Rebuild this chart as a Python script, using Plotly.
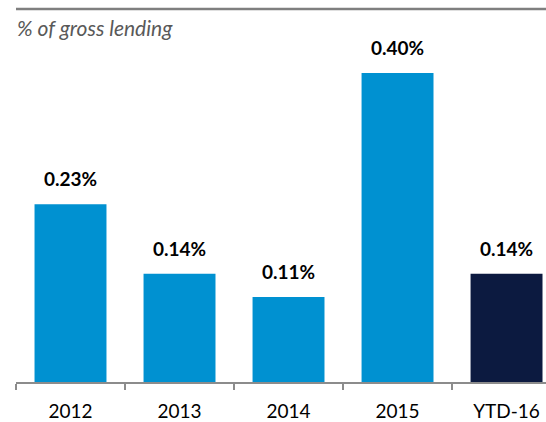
import plotly.graph_objects as go

categories = ["2012", "2013", "2014", "2015", "YTD-16"]
values = [0.23, 0.14, 0.11, 0.40, 0.14]
labels = ["0.23%", "0.14%", "0.11%", "0.40%", "0.14%"]
bar_colors = ["#0091D1", "#0091D1", "#0091D1", "#0091D1", "#0C1A40"]

fig = go.Figure()
fig.add_trace(go.Bar(
    x=categories,
    y=values,
    marker=dict(color=bar_colors, line=dict(width=0)),
    width=0.66,
    hoverinfo="skip",
))

# value labels above bars (x as category index, "2012" would be read as a number)
for i, (v, t) in enumerate(zip(values, labels)):
    fig.add_annotation(x=i, y=v, text=f"<b>{t}</b>", showarrow=False,
                       yanchor="bottom", yshift=12,
                       font=dict(family="Lato", size=19, color="#000000"))

# subtitle and top rule
fig.add_annotation(x=0, y=1, xref="paper", yref="paper", xanchor="left", yanchor="top",
                   text="<i>% of gross lending</i>", showarrow=False, yshift=-4, xshift=-1,
                   font=dict(family="Lato", size=21, color="#595959"))
fig.add_shape(type="line", xref="paper", yref="paper", x0=0, x1=1, y0=1, y1=1,
              line=dict(color="#7F7F7F", width=2.5))

fig.update_layout(
    width=546, height=422,
    margin=dict(l=16, r=0, t=9, b=40),
    plot_bgcolor="white", paper_bgcolor="white",
    showlegend=False,
    bargap=0.34,
)
fig.update_xaxes(type="category", range=[-0.5, 4.362], showline=True, linecolor="#8C8C8C",
                 linewidth=1.5, ticks="outside", tickson="boundaries", ticklen=6,
                 tickcolor="#8C8C8C", tickwidth=1.5, ticklabelstandoff=11,
                 tickfont=dict(family="Lato", size=19, color="#000000"), showgrid=False)
fig.update_yaxes(range=[0, 373 / 772.5], visible=False, showgrid=False, zeroline=False)

fig.write_html("out.html", config={"displayModeBar": False},
               post_script="document.body.style.margin='0';")
